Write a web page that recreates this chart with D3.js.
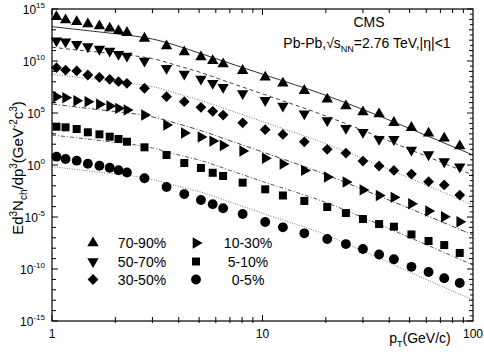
<!DOCTYPE html>
<html><head><meta charset="utf-8">
<script src="https://cdn.jsdelivr.net/npm/d3@7"></script>
<style>body{margin:0;background:#fff}svg{display:block;font-family:"Liberation Sans",Arial,sans-serif}</style>
</head><body><svg id="c" width="484" height="352"></svg>
<script>
// ---- data ----
const pT = [1.05, 1.16, 1.31, 1.48, 1.68, 1.88, 2.07, 2.27, 2.75, 3.5, 4.25, 5.1, 5.8, 6.5, 8.05, 10.3, 12.5, 15.8, 20.3, 24.9, 30.0, 35.8, 42.1, 51, 61.5, 73, 86.5];
const centralities = ["70-90%", "50-70%", "30-50%", "10-30%", "5-10%", "0-5%"];
const y7090 = [1.8e14, 8.7e13, 6.0e13, 3.6e13, 2.3e13, 1.4e13, 8.2e12, 5.3e12, 1.5e12, 2.8e11, 7.4e10, 2.4e10, 1.07e10, 5.1e9, 1.17e9, 2.7e8, 7.2e7, 1.4e7, 2.1e6, 4.7e5, 1.26e5, 8.0e4, 1.17e4, 3.9e3, 1.12e3, 3.7e2, 67];
const y5070 = [8.9e11, 7.2e11, 4.1e11, 2.4e11, 1.4e11, 9.1e10, 4.4e10, 3.0e10, 1.0e10, 2.0e9, 5.6e8, 1.86e8, 7.2e7, 3.0e7, 7.5e6, 1.66e6, 4.7e5, 8.5e4, 1.9e4, 3.4e3, 1.4e3, 3.0e2, 2.9e2, 28, 10, 2.1, 0.69];
const y3050 = [2.3e9, 1.36e9, 1.1e9, 4.5e8, 2.7e8, 1.74e8, 1.02e8, 7.2e7, 2.4e7, 3.7e6, 1.23e6, 3.5e5, 1.45e5, 6.4e4, 1.14e4, 2.5e3, 8.6e2, 1.7e2, 32, 14, 2.4, 0.80, 0.30, 0.136, 0.025, 0.012, 1.3e-3];
const y1030 = [3.7e6, 2.95e6, 1.5e6, 1.23e6, 6.9e5, 4.7e5, 2.8e5, 1.95e5, 6.4e4, 7.0e3, 1.2e3, 4.9e2, 2.0e2, 75, 22, 4.4, 1.25, 0.30, 0.070, 0.023, 4.0e-3, 1.17e-3, 7.8e-4, 1.86e-4, 3.8e-5, 1.05e-5, 3.5e-6];
const y0510 = [4.8e3, 4.2e3, 2.9e3, 1.4e3, 8.9e2, 5.3e2, 3.2e2, 1.74e2, 50, 9.1, 1.56, 0.52, 0.178, 0.088, 0.020, 4.6e-3, 1.17e-3, 3.5e-4, 9.2e-5, 2.4e-5, 6.4e-6, 2.1e-6, 1.17e-6, 2.1e-7, 4.9e-8, 2.0e-8, 3.5e-9];
const y0005 = [6.3, 3.8, 2.6, 1.33, 0.84, 0.54, 0.31, 0.19, 0.053, 7.7e-3, 1.6e-3, 4.3e-4, 1.7e-4, 7.0e-5, 1.95e-5, 3.3e-6, 1.02e-6, 2.7e-7, 7.7e-8, 2.5e-8, 8.3e-9, 2.5e-9, 8.6e-10, 1.63e-10, 5.1e-11, 1.28e-11, 4.5e-12];
// fit curves
const fitPT = [1, 1.5, 2, 2.5, 3, 4, 5, 7, 10, 20, 30, 50, 100];
const fit7090 = [2.0e13, 8.0e12, 4.2e12, 2.4e12, 1.3e12, 2.6e11, 5.9e10, 6.0e9, 5.4e8, 5.0e6, 2.2e5, 3.2e3, 9.1];
const fit5070 = [2.1e11, 8.7e10, 4.8e10, 3.0e10, 1.7e10, 3.3e9, 8.7e8, 8.2e7, 6.9e6, 5.1e4, 2.1e3, 31, 0.11];
const fit3050 = [5.2e8, 2.1e8, 1.07e8, 6.1e7, 3.5e7, 6.7e6, 1.8e6, 1.8e5, 1.5e4, 1.1e2, 4.2, 0.056, 1.4e-4];
const fit1030 = [7.4e5, 2.7e5, 1.4e5, 8.0e4, 4.2e4, 8.7e3, 2.3e3, 2.2e2, 18, 0.12, 4.4e-3, 6.6e-5, 1.9e-7];
const fit0510 = [7.6e2, 3.0e2, 1.5e2, 84, 43, 9.1, 3.0, 0.31, 0.026, 2.5e-4, 8.9e-6, 1.07e-7, 2.4e-10];
const fit0005 = [0.69, 0.265, 0.136, 0.078, 0.040, 8.6e-3, 2.8e-3, 2.8e-4, 2.3e-5, 1.9e-7, 5.4e-9, 5.1e-11, 1.05e-13];
const xTickLabels = ["1", "10", "100"];
const yTickExps = [15, 10, 5, 0, -5, -10, -15];

// ---- chart ----
const svg = d3.select("#c");
const L = 52, R = 473, T = 9, B = 321;
const x = d3.scaleLog().domain([1, 100]).range([L, R]);
const y = d3.scaleLog().domain([1e-15, 1e15]).range([B, T]);
const FONT = '"Liberation Sans",Arial,sans-serif';

const seriesVals = [y7090, y5070, y3050, y1030, y0510, y0005];
const fitVals = [fit7090, fit5070, fit3050, fit1030, fit0510, fit0005];
const dashes = [null, "4,3", "1,1.5", "5,2,1,2", "4,2,1,2", "1,1.5"];
const lineCol = ["#333", "#444", "#777", "#444", "#555", "#777"];

const tri = d3.symbol().type(d3.symbolTriangle).size(56)();
const sq = d3.symbol().type(d3.symbolSquare).size(64)();
const dia = d3.symbol().type(d3.symbolSquare).size(58)();
const circ = d3.symbol().type(d3.symbolCircle).size(76)();
const marks = [
  {p: tri, r: 0}, {p: tri, r: 180}, {p: dia, r: 45},
  {p: tri, r: 90}, {p: sq, r: 0}, {p: circ, r: 0}
];

// clip
svg.append("clipPath").attr("id", "clip").append("rect").attr("x", L).attr("y", T).attr("width", R - L).attr("height", B - T);

// fit lines
const line = d3.line().x(d => x(d[0])).y(d => y(d[1])).curve(d3.curveMonotoneX);
fitVals.forEach((fv, i) => {
  svg.append("path").attr("clip-path", "url(#clip)")
    .attr("d", line(fitPT.map((p, j) => [p, fv[j]])))
    .attr("fill", "none").attr("stroke", lineCol[i]).attr("stroke-width", 1)
    .attr("stroke-dasharray", dashes[i]);
});

// points
seriesVals.forEach((sv, i) => {
  svg.append("g").selectAll("path").data(sv).join("path")
    .attr("d", marks[i].p)
    .attr("transform", (d, j) => `translate(${x(pT[j])},${y(d)}) rotate(${marks[i].r})`)
    .attr("fill", "#000");
});

// frame
svg.append("rect").attr("x", L).attr("y", T).attr("width", R - L).attr("height", B - T)
  .attr("fill", "none").attr("stroke", "#000").attr("stroke-width", 1.2);

// x ticks
const xt = svg.append("g").attr("stroke", "#000").attr("stroke-width", 1);
for (let dec = 1; dec < 100; dec *= 10) {
  for (let k = 1; k < 10; k++) {
    const v = dec * k, px = x(v);
    const major = k === 1;
    if (major) {
      xt.append("line").attr("x1", px).attr("x2", px).attr("y1", B).attr("y2", B - 6);
      xt.append("line").attr("x1", px).attr("x2", px).attr("y1", T).attr("y2", T + 6);
    } else {
      xt.append("line").attr("x1", px).attr("x2", px).attr("y1", B + 2).attr("y2", B - 4);
      xt.append("line").attr("x1", px).attr("x2", px).attr("y1", T).attr("y2", T + 4);
    }
  }
}
xTickLabels.forEach(t => {
  svg.append("text").attr("x", x(+t)).attr("y", 338).attr("text-anchor", "middle")
    .attr("font-size", 12).attr("font-family", FONT).text(t);
});

// y ticks
for (let e = -15; e <= 15; e++) {
  const py = y(Math.pow(10, e));
  const major = e % 5 === 0;
  const len = major ? 6 : 4;
  xt.append("line").attr("x1", L).attr("x2", L + len).attr("y1", py).attr("y2", py);
  xt.append("line").attr("x1", R).attr("x2", R - len).attr("y1", py).attr("y2", py);
  if (e < 15) {
    const ph = y(Math.pow(10, e + 0.5));
    xt.append("line").attr("x1", R).attr("x2", R - 3).attr("y1", ph).attr("y2", ph);
  }
}
yTickExps.forEach(e => {
  const t = svg.append("text").attr("x", 45).attr("y", y(Math.pow(10, e)) + 4.5)
    .attr("text-anchor", "end").attr("font-size", 12).attr("font-family", FONT);
  t.append("tspan").text("10");
  t.append("tspan").attr("font-size", 8).attr("dy", -6).text(String(e));
});

// axis titles
const xtTitle = svg.append("text").attr("x", 420).attr("y", 343).attr("text-anchor", "middle")
  .attr("font-size", 14).attr("font-family", FONT);
xtTitle.append("tspan").text("p");
xtTitle.append("tspan").attr("font-size", 9).attr("dy", 4).text("T");
xtTitle.append("tspan").attr("dy", -4).text("(GeV/c)");

const ytTitle = svg.append("text").attr("transform", "translate(23,168) rotate(-90)")
  .attr("text-anchor", "middle").attr("font-size", 15).attr("font-family", FONT);
ytTitle.append("tspan").text("Ed");
ytTitle.append("tspan").attr("font-size", 10).attr("dy", -6).text("3");
ytTitle.append("tspan").attr("dy", 6).text("N");
ytTitle.append("tspan").attr("font-size", 10).attr("dy", 4).text("ch");
ytTitle.append("tspan").attr("dy", -4).text("/dp");
ytTitle.append("tspan").attr("font-size", 10).attr("dy", -6).text("3");
ytTitle.append("tspan").attr("dy", 6).text("(GeV");
ytTitle.append("tspan").attr("font-size", 10).attr("dy", -6).text("-2");
ytTitle.append("tspan").attr("dy", 6).text("c");
ytTitle.append("tspan").attr("font-size", 10).attr("dy", -6).text("3");
ytTitle.append("tspan").attr("dy", 6).text(")");

// annotation
svg.append("text").attr("x", 369).attr("y", 27).attr("text-anchor", "middle")
  .attr("font-size", 14).attr("font-family", FONT).text("CMS");
const ann = svg.append("text").attr("x", 367).attr("y", 48).attr("text-anchor", "middle")
  .attr("font-size", 14).attr("font-family", FONT);
ann.append("tspan").text("Pb-Pb,√s");
ann.append("tspan").attr("font-size", 9).attr("dy", 4).text("NN");
ann.append("tspan").attr("dy", -4).text("=2.76 TeV,|η|<1");

// legend
const legPos = [
  {mx: 93, tx: 142, y: 243}, {mx: 93, tx: 142, y: 261.5}, {mx: 93, tx: 142, y: 279.5},
  {mx: 196, tx: 248, y: 243}, {mx: 196, tx: 248, y: 261.5}, {mx: 196, tx: 248, y: 279.5}
];
centralities.forEach((c, i) => {
  const p = legPos[i];
  svg.append("path").attr("d", marks[i].p).attr("fill", "#000")
    .attr("transform", `translate(${p.mx},${p.y}) rotate(${marks[i].r})`);
  svg.append("text").attr("x", p.tx).attr("y", p.y + 5).attr("text-anchor", "middle")
    .attr("font-size", 14).attr("font-family", FONT).text(c);
});
</script></body></html>
